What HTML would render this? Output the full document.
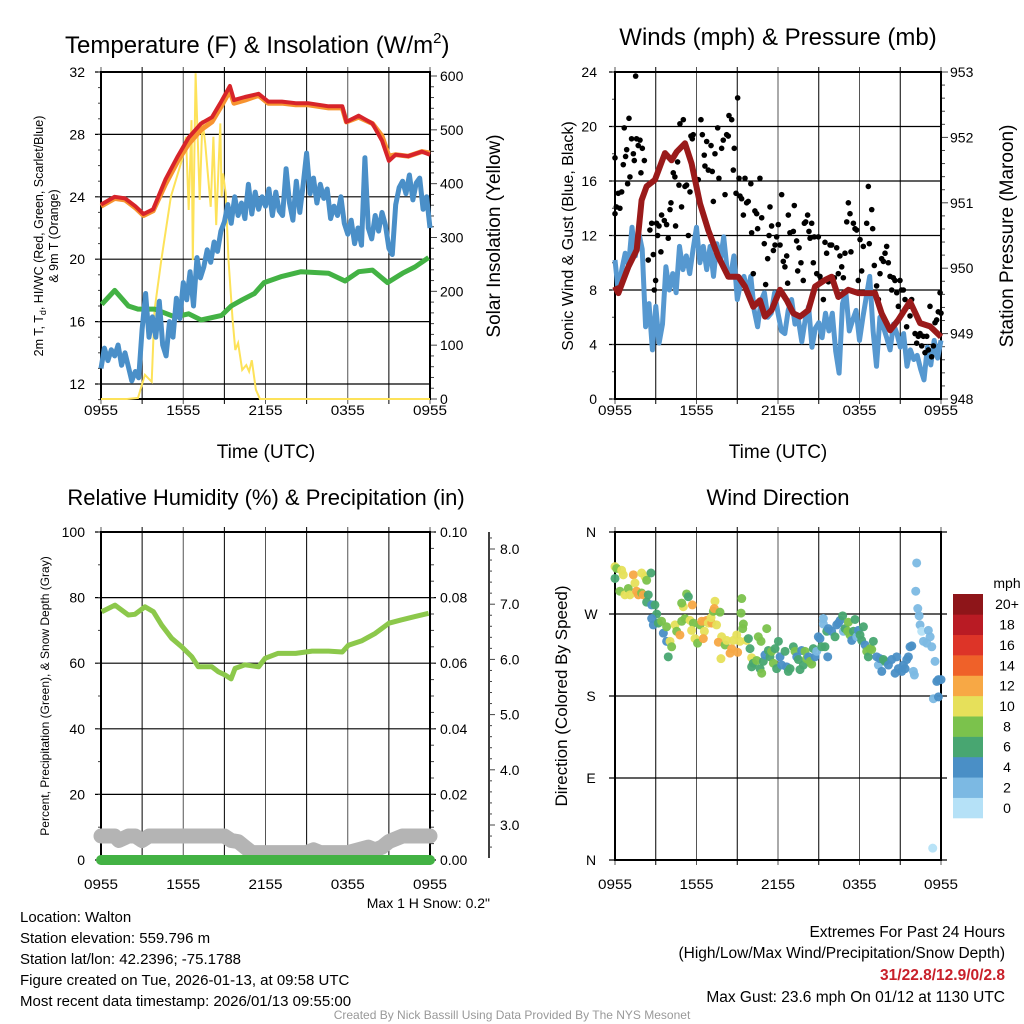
<!DOCTYPE html>
<html><head><meta charset="utf-8">
<style>
html,body{margin:0;padding:0;background:#fff;}
svg{display:block;font-family:"Liberation Sans",Arial,sans-serif;}
</style></head>
<body>
<svg id="c" width="1024" height="1024" viewBox="0 0 1024 1024" xmlns="http://www.w3.org/2000/svg"></svg>
<script>
// ---------- DATA ----------
const xTickLabels = ["0955","1555","2155","0355","0955"];
const quarterHours = [0,0.25,0.5,0.75,1,1.25,1.5,1.75,2,2.25,2.5,2.75,3,3.25,3.5,3.75,4,4.25,4.5,4.75,5,5.25,5.5,5.75,6,6.25,6.5,6.75,7,7.25,7.5,7.75,8,8.25,8.5,8.75,9,9.25,9.5,9.75,10,10.25,10.5,10.75,11,11.25,11.5,11.75,12,12.25,12.5,12.75,13,13.25,13.5,13.75,14,14.25,14.5,14.75,15,15.25,15.5,15.75,16,16.25,16.5,16.75,17,17.25,17.5,17.75,18,18.25,18.5,18.75,19,19.25,19.5,19.75,20,20.25,20.5,20.75,21,21.25,21.5,21.75,22,22.25,22.5,22.75,23,23.25,23.5,23.75,24];
// Panel 1: temperature
const redHours = [0,1,1.75,2.5,3.1,3.8,4.7,5.6,6.4,7.3,8.1,8.7,9.4,9.7,10.5,11.5,12.2,13.2,14.2,15.1,16.6,17.6,17.9,18.8,19.8,20.5,21.0,21.5,22.4,23.4,24];
const redTemp = [23.5,24.0,23.9,23.4,22.9,23.2,25.1,26.6,27.8,28.7,29.1,30.0,31.1,30.2,30.4,30.6,30.1,30.1,30.0,30.0,29.8,29.8,28.8,29.2,28.7,27.6,26.3,26.7,26.6,26.9,26.7];
const orangeTemp = [23.4,23.9,23.8,23.3,22.8,23.1,24.8,26.3,27.4,28.3,28.8,29.7,30.8,30.0,30.2,30.5,30.0,30.0,29.9,29.9,29.7,29.7,28.8,29.1,28.7,27.9,26.6,26.7,26.6,26.9,26.8];
const blueTemp = [13.0,14.3,13.5,14.2, 13.8,14.5,13.2,14.0, 13.1,12.2,12.8,12.4, 15.5,17.8,15.0,16.3, 15.0,17.3,14.5,13.8, 16.0,15.0,17.5,16.2, 18.5,17.4,19.2,17.0, 20.1,18.8,19.5,20.6, 19.8,21.1,20.5,21.8, 22.4,23.5,22.3,24.0, 22.8,23.6,22.6,24.8, 22.9,24.3,23.2,24.0, 23.4,24.5,22.8,24.3, 23.1,22.8,25.8,23.6, 22.5,25.0,23.0,24.8, 26.8,24.2,25.2,23.6, 24.8,23.9,24.5,22.6, 23.4,22.8,24.0,22.3, 21.6,22.5,21.0,22.0, 20.9,26.5,22.0,21.3, 22.8,21.8,23.0,22.2, 20.7,20.3,23.5,24.6, 25.0,24.2,25.4,23.8, 24.9,25.2,23.2,24.0, 22.0];
const greenHours = [0.05,1.0,2.0,2.7,3.9,5.4,6.4,7.3,8.8,9.5,10.3,11.2,11.9,13.2,14.6,16.6,17.8,18.8,19.8,20.9,22.0,22.9,23.9];
const greenTemp = [17.1,18.0,17.0,16.8,16.8,16.3,16.5,16.1,16.4,17.0,17.4,17.8,18.5,18.9,19.2,19.1,18.6,19.2,19.3,18.5,19.1,19.5,20.1];
const solarHours = [0,1.9,2.7,3.2,3.7,3.9,4.4,5.1,5.9,6.2,6.4,6.6,6.7,6.9,7.2,7.4,7.6,8.0,8.2,8.4,8.7,8.8,8.9,9.1,9.3,9.6,9.8,10.0,10.3,10.6,10.8,11.0,11.3,11.6,24];
const solarVals = [0,0,2,45,32,165,258,376,444,487,351,518,258,605,370,518,475,357,487,323,512,376,419,382,258,147,91,104,54,63,51,72,17,0,0];
// Panel 2: winds & pressure
const presHours = [0.0,0.25,0.98,1.6,1.96,2.33,2.94,3.68,4.17,4.54,5.15,5.64,6.26,6.87,7.6,8.34,9.08,9.57,10.18,10.67,11.04,11.53,12.15,12.64,13.13,13.62,14.24,14.73,15.46,15.95,16.45,17.18,17.92,18.65,19.14,19.63,20.25,20.86,21.72,22.46,23.2,24.0];
const presVals = [949.72,949.62,950.02,950.28,951.04,951.25,951.35,951.76,951.65,951.78,951.91,951.60,950.99,950.58,950.18,949.87,949.87,949.72,949.41,949.51,949.26,949.36,949.67,949.51,949.31,949.26,949.36,949.72,949.82,949.87,949.56,949.67,949.62,949.62,949.62,949.31,949.05,949.21,949.49,949.16,949.11,948.95];
const windVals = [10.2,7.8,9.5,10.7, 9.8,12.6,10.5,12.2, 11.0,5.3,7.0,3.6, 6.8,4.1,5.5,9.7, 8.0,9.2,7.8,11.2, 9.5,10.5,9.2,11.0, 12.6,10.0,11.2,9.5, 11.2,9.0,11.4,10.2, 11.9,9.5,9.0,10.5, 7.3,8.5,9.0,7.8, 9.0,6.5,5.3,7.2, 7.8,6.0,6.3,7.8, 6.3,5.0,4.8,6.5, 7.3,5.5,5.8,4.2, 5.8,6.8,3.8,5.2, 5.6,4.5,6.3,5.0, 6.3,3.5,1.9,7.0, 7.8,5.0,5.8,6.5, 4.3,6.0,7.5,9.0, 5.0,2.4,6.0,5.3, 4.5,3.6,5.5,4.8, 3.8,4.8,2.4,3.6, 2.9,3.2,2.2,1.4, 3.8,2.5,4.3,3.0, 4.3];
const gustHours = [0.0,0.0,0.1,0.24,0.36,0.49,0.61,0.68,0.78,0.86,0.93,1.03,1.1,1.22,1.35,1.42,1.52,1.59,1.71,1.84,1.91,2.01,2.16,2.45,2.57,2.7,2.82,2.89,2.99,3.06,3.14,3.24,3.38,3.43,3.63,3.8,3.92,4.05,4.12,4.29,4.41,4.46,4.61,4.71,4.78,4.9,5.03,5.15,5.27,5.4,5.52,5.59,5.69,5.76,6.13,6.33,6.43,6.57,6.62,6.75,6.87,7.07,7.16,7.24,7.36,7.56,7.65,7.85,7.97,8.1,8.22,8.34,8.39,8.59,8.71,8.78,8.91,9.03,9.13,9.2,9.32,9.45,9.57,9.69,9.81,10.0,10.06,10.18,10.3,10.43,10.5,10.67,10.8,10.99,11.09,11.24,11.34,11.41,11.53,11.66,11.78,11.9,12.02,12.15,12.27,12.39,12.51,12.64,12.71,12.76,12.88,13.13,13.2,13.37,13.45,13.55,13.69,13.86,13.94,14.04,14.18,14.28,14.36,14.48,14.6,14.67,14.85,14.97,15.09,15.21,15.34,15.46,15.58,15.71,15.83,15.95,16.15,16.32,16.44,16.56,16.69,16.81,16.93,17.06,17.18,17.3,17.37,17.55,17.67,17.79,17.91,18.04,18.16,18.28,18.53,18.65,18.72,18.9,18.97,19.09,19.26,19.39,19.51,19.63,19.76,19.88,20.0,20.12,20.25,20.37,20.49,20.61,20.74,20.86,20.98,21.1,21.23,21.35,21.47,21.6,21.72,21.84,22.09,22.21,22.33,22.46,22.58,22.7,22.82,22.95,23.07,23.19,23.31,23.44,23.56,23.68,23.8,23.93,24.0];
const gustVals = [17.7,13.6,14.1,15.1,14.0,15.2,17.2,19.9,17.8,18.3,15.8,20.6,16.3,19.1,18.0,17.5,23.7,19.1,18.6,19.0,16.6,18.4,17.5,10.2,12.4,12.9,10.6,8.0,8.7,12.9,12.0,12.7,10.8,13.5,13.1,12.8,11.8,13.9,14.4,16.6,16.3,12.7,17.4,15.7,20.2,14.1,20.5,15.6,15.7,12.0,15.2,19.3,19.1,19.4,16.1,20.5,19.4,17.9,17.1,18.9,16.8,18.6,16.7,14.5,18.0,19.9,16.2,18.4,19.0,15.0,19.4,19.3,20.8,20.5,16.8,18.4,15.1,22.1,16.2,14.9,14.7,13.5,16.2,14.4,14.5,15.8,12.2,9.2,13.8,13.6,12.5,16.2,13.3,11.4,8.4,10.3,12.0,14.1,12.7,10.9,11.3,11.9,12.8,11.3,15.0,10.1,9.7,10.5,8.5,13.5,12.2,12.3,14.2,11.6,9.4,11.1,10.0,8.7,12.9,13.0,13.5,12.3,11.8,12.9,10.0,11.9,9.2,11.9,9.0,8.7,7.3,11.5,10.7,8.6,11.3,11.3,8.9,11.1,9.2,10.5,9.7,8.9,10.7,13.0,14.4,13.6,10.8,12.9,12.5,12.4,8.7,11.7,9.4,11.2,12.9,15.6,11.4,13.9,12.5,9.8,8.3,7.3,9.2,10.3,10.1,10.7,11.2,10.0,9.0,8.0,8.9,8.7,7.8,6.8,8.7,8.0,8.0,7.3,5.3,6.8,6.1,7.3,4.8,4.1,4.6,4.8,3.9,4.6,3.4,4.6,3.6,6.8,3.1,3.9,5.6,5.8,6.4,7.8,6.3];
// Panel 3: humidity / precip / snow
const rhHours = [0.05,1.02,1.99,2.48,3.21,3.82,4.43,5.16,5.89,6.62,7.1,8.08,8.56,9.05,9.49,9.78,10.5,11.5,11.97,12.9,14.2,15.4,16.6,17.6,18.05,19.0,20.0,21.0,21.9,22.9,23.9];
const rhVals = [75.7,77.7,74.7,74.9,77.2,75.7,71.6,67.6,65.0,62.0,58.9,58.9,57.4,56.4,55.2,58.4,59.5,58.9,61.5,63.0,63.0,63.7,63.7,63.4,65.5,66.8,69.1,72.2,73.2,74.2,75.2];
const precipHours = [0,24];
const precipVals = [0,0];
const snowHours = [0,1,1.3,2,2.5,3,3.5,9,9.5,10,10.5,11,15,15.5,16,18,19.5,20,20.5,21,22,24];
const snowVals = [2.8,2.8,2.72,2.8,2.8,2.72,2.8,2.8,2.72,2.7,2.6,2.5,2.5,2.55,2.5,2.5,2.6,2.55,2.6,2.7,2.8,2.8];
// Panel 4: wind direction
const dirHours = [0,0.12,0,0.49,0.61,0.36,0.73,0.98,1.1,1.35,1.47,1.59,1.72,1.96,2.08,1.96,2.21,2.33,2.45,2.65,2.33,2.7,2.94,3.07,2.7,2.82,3.19,3.43,3.56,3.8,3.8,4.05,4.17,3.92,4.42,4.54,4.78,4.91,5.03,4.91,5.27,5.4,5.69,5.15,5.52,5.77,5.64,5.89,6.08,6.26,6.38,6.58,6.5,6.63,6.75,6.87,7.12,7.07,7.24,7.36,7.31,7.48,7.73,7.85,7.61,7.8,8.1,8.22,8.59,8.47,8.71,8.96,9.03,9.2,9.33,9.28,9.45,9.4,9.69,9.82,10.06,10.18,9.94,10.06,10.43,10.55,10.75,10.68,10.8,10.92,11.17,11.04,11.29,11.41,11.53,11.66,11.78,12.03,11.9,12.15,12.27,12.52,12.64,12.76,12.89,13.13,13.25,13.38,13.5,13.62,13.74,13.87,13.99,14.11,14.24,14.36,14.48,14.6,14.73,14.85,14.97,15.09,15.22,15.46,15.66,15.34,15.34,15.59,15.71,15.95,16.2,16.32,16.45,16.57,16.76,16.81,16.94,17.13,17.18,17.3,17.43,17.55,17.67,17.8,17.92,18.04,18.29,18.16,18.41,18.53,18.65,18.78,18.9,19.02,19.27,19.39,19.51,19.64,19.76,19.88,20.13,20.37,20.62,20.74,20.86,21.11,21.23,21.36,21.48,21.6,21.72,21.85,21.97,22.04,22.21,22.14,22.29,22.39,22.46,22.58,22.71,22.95,23.07,23.2,23.32,23.56,23.69,23.81,24.0,23.44,23.81,23.39];
const dirDeg = [322,320,309,318,313,295,291,298,291,313,304,295,291,293,291,315,311,307,291,315,283,280,280,270,265,258,260,262,249,256,240,240,234,223,258,251,247,262,278,282,292,289,280,265,263,260,252,243,238,258,262,251,243,262,263,260,260,266,273,284,276,258,272,245,239,221,236,241,232,227,241,247,228,240,287,271,259,254,241,243,222,216,232,212,219,245,240,210,205,218,254,225,230,223,229,216,232,240,210,223,214,229,212,207,210,234,229,223,220,209,230,214,229,221,223,218,215,232,223,229,245,243,234,234,223,265,259,251,254,251,245,258,260,263,268,251,254,251,261,247,241,251,264,245,252,247,256,241,236,229,223,232,231,240,223,214,221,207,220,218,214,220,205,223,210,207,214,210,220,223,234,235,207,203,326,295,276,268,258,251,240,238,252,245,234,218,196,198,198,177,179,13];
const dirSpeed = [10.5,8.5,6.5,10.5,10.5,8.5,10.5,8.5,10.5,12.5,10.5,12.5,12.5,8.5,12.5,10.5,10.5,8.5,6.5,6.5,6.5,4.5,6.5,6.5,4.5,4.5,6.5,8.5,4.5,8.5,4.5,10.5,8.5,6.5,10.5,8.5,12.5,8.5,10.5,8.5,8.5,6.5,12.5,8.5,10.5,8.5,10.5,10.5,8.5,8.5,12.5,10.5,12.5,12.5,12.5,10.5,12.5,10.5,8.5,10.5,12.5,10.5,8.5,10.5,12.5,10.5,8.5,10.5,12.5,12.5,10.5,10.5,12.5,10.5,8.5,8.5,8.5,8.5,10.5,6.5,10.5,6.5,6.5,6.5,8.5,8.5,8.5,6.5,8.5,6.5,8.5,4.5,6.5,6.5,8.5,8.5,6.5,6.5,6.5,4.5,4.5,6.5,4.5,6.5,6.5,6.5,8.5,4.5,6.5,6.5,4.5,6.5,8.5,8.5,4.5,8.5,8.5,6.5,4.5,2.5,4.5,4.5,6.5,6.5,4.5,2.5,2.5,6.5,4.5,4.5,6.5,4.5,4.5,4.5,6.5,2.5,6.5,8.5,8.5,8.5,4.5,6.5,6.5,2.5,4.5,6.5,6.5,6.5,4.5,8.5,6.5,8.5,8.5,6.5,4.5,2.5,4.5,4.5,6.5,6.5,4.5,4.5,4.5,4.5,4.5,4.5,4.5,4.5,4.5,4.5,4.5,4.5,2.5,2.5,2.5,2.5,2.5,2.5,2.5,1,2.5,2.5,2.5,2.5,2.5,2.5,4.5,4.5,4.5,2.5,4.5,1];
const speedBinLabels = ["0","2","4","6","8","10","12","14","16","18","20+"];
const speedBinColors = ["#b5e1f7","#7cb9e3","#4a8fc6","#48a671","#7bc24c","#e6e05a","#f7a845","#ef6129","#dd3428","#b91b24","#8e1519"];

// ---------- HELPERS ----------
const NS="http://www.w3.org/2000/svg";
const svg=document.getElementById('c');
function mk(tag,attrs,parent){const e=document.createElementNS(NS,tag);for(const k in attrs)e.setAttribute(k,attrs[k]);(parent||svg).appendChild(e);return e;}
function txt(s,x,y,size,anchor,parent,extra){const e=mk('text',Object.assign({x:x,y:y,'font-size':size,'text-anchor':anchor||'start',fill:'#000'},extra||{}),parent);e.textContent=s;return e;}
function lin(d0,d1,p0,p1){return v=>p0+(v-d0)/(d1-d0)*(p1-p0);}
function pathFrom(xs,ys,fx,fy){return xs.map((h,i)=>(i?'L':'M')+fx(h).toFixed(1)+' '+fy(ys[i]).toFixed(1)).join(' ');}

function frame(g,X0,X1,Y0,Y1,fx){
  for(let h=0;h<=24;h+=3){const x=fx(h);
    mk('line',{x1:x,y1:Y0-5,x2:x,y2:Y1+5,stroke:(h%6==3)?'#000':'#555','stroke-width':1},g);}
}
function xLabels(g,fx,y){xTickLabels.forEach((s,i)=>{txt(s,fx(i*6),y,14,'middle',g,{'textLength':34,'lengthAdjust':'spacingAndGlyphs'});});}

// ================= PANEL 1 =================
(function(){
  const g=mk('g',{});
  
  
  const X0=101,X1=430,Y0=72,Y1=399;
  const fx=lin(0,24,X0,X1), fy=lin(12,32,384,72), fs=lin(0,600,399,76);
  frame(g,X0,X1,Y0,Y1,fx);
  for(let t=12;t<=32;t+=4){const y=fy(t);mk('line',{x1:X0-6,y1:y,x2:X1,y2:y,stroke:'#000','stroke-width':1.2},g);
    const l=txt(String(t),85,y+5,14,'end',g); }
  for(let t=11;t<=32;t++){const y=fy(t);mk('line',{x1:X0-3,y1:y,x2:X0,y2:y,stroke:'#444','stroke-width':1},g);}
  for(let s=0;s<=600;s+=20){const y=fs(s);mk('line',{x1:X1,y1:y,x2:X1+(s%100==0?7:4),y2:y,stroke:'#444','stroke-width':1},g);}
  for(let s=0;s<=600;s+=100){txt(String(s),440,fs(s)+5,14,'start',g);}
  mk('rect',{x:X0,y:Y0,width:X1-X0,height:Y1-Y0,fill:'none',stroke:'#000','stroke-width':2},g);
  const sol=mk('path',{d:pathFrom(solarHours,solarVals,fx,fs),fill:'none',stroke:'#fde259','stroke-width':2},g);
  
  const gr=mk('path',{d:pathFrom(greenHours,greenTemp,fx,fy),fill:'none',stroke:'#43b244','stroke-width':5,'stroke-linejoin':'round'},g);
  
  const bl=mk('path',{d:pathFrom(quarterHours,blueTemp,fx,fy),fill:'none',stroke:'#4a8fc8','stroke-width':5,'stroke-linejoin':'round'},g);
  
  const or=mk('path',{d:pathFrom(redHours,orangeTemp,fx,fy),fill:'none',stroke:'#f7932f','stroke-width':5,'stroke-linejoin':'round'},g);
  
  const rd=mk('path',{d:pathFrom(redHours,redTemp,fx,fy),fill:'none',stroke:'#d7242a','stroke-width':4,'stroke-linejoin':'round'},g);
  
  xLabels(g,fx,415);
  const t=txt('Temperature (F) & Insolation (W/m',65,53,24,'start',g); 
  const ts=mk('tspan',{'font-size':15,dy:-10},t); ts.textContent='2';
  const ts2=mk('tspan',{'font-size':24,dy:10},t); ts2.textContent=')';
  txt('Time (UTC)',266,458,19,'middle',g);
  const yl=mk('text',{transform:'translate(43,236) rotate(-90)','font-size':12.5,'text-anchor':'middle'},g);
  
  yl.innerHTML='2m T, T<tspan font-size="9" dy="3">d</tspan><tspan dy="-3">, HI/WC (Red, Green, Scarlet/Blue)</tspan>';
  txt('& 9m T (Orange)',0,0,12.5,'middle',g,{transform:'translate(58,236) rotate(-90)'});
  txt('Solar Insolation (Yellow)',0,0,19,'middle',g,{transform:'translate(500,236) rotate(-90)'});
})();

// ================= PANEL 2 =================
(function(){
  const g=mk('g',{});
  
  
  const X0=615,X1=941,Y0=72,Y1=399;
  const fx=lin(0,24,X0,X1), fy=lin(0,24,399,72), fp=lin(948,953,399,72);
  frame(g,X0,X1,Y0,Y1,fx);
  for(let w=0;w<=24;w+=4){const y=fy(w);mk('line',{x1:X0-6,y1:y,x2:X1,y2:y,stroke:'#000','stroke-width':1.2},g);txt(String(w),597,y+5,14,'end',g);}
  for(let w=0;w<=24;w+=2){const y=fy(w);mk('line',{x1:X0-3,y1:y,x2:X0,y2:y,stroke:'#444'},g);}
  for(let i=0;i<=25;i++){const p=948+i*0.2;const y=fp(p);mk('line',{x1:X1,y1:y,x2:X1+(i%5==0?7:4),y2:y,stroke:'#444'},g);}
  for(let p=948;p<=953;p++){txt(String(p),950,fp(p)+5,14,'start',g);}
  mk('rect',{x:X0,y:Y0,width:X1-X0,height:Y1-Y0,fill:'none',stroke:'#000','stroke-width':2},g);
  const wl=mk('path',{d:pathFrom(quarterHours,windVals,fx,fy),fill:'none',stroke:'#5698d0','stroke-width':5,'stroke-linejoin':'round'},g);
  
  gustHours.forEach((h,i)=>{const c=mk('circle',{cx:fx(h),cy:fy(gustVals[i]),r:2.8,fill:'#000'},g);
    
    });
  const pl=mk('path',{d:pathFrom(presHours,presVals,fx,fp),fill:'none',stroke:'#9a1a1a','stroke-width':6,'stroke-linejoin':'round'},g);
  
  xLabels(g,fx,415);
  txt('Winds (mph) & Pressure (mb)',778,45,24,'middle',g);
  txt('Time (UTC)',778,458,19,'middle',g);
  txt('Sonic Wind & Gust (Blue, Black)',0,0,16,'middle',g,{transform:'translate(573,236) rotate(-90)'});
  txt('Station Pressure (Maroon)',0,0,19,'middle',g,{transform:'translate(1013,236) rotate(-90)'});
})();

// ================= PANEL 3 =================
(function(){
  const g=mk('g',{});
  
  
  const X0=101,X1=430,Y0=532,Y1=860;
  const fx=lin(0,24,X0,X1), fy=lin(0,100,860,532), fsn=lin(3,8,825,549);
  frame(g,X0,X1,Y0,Y1,fx);
  for(let v=0;v<=100;v+=20){const y=fy(v);mk('line',{x1:X0-6,y1:y,x2:X1+6,y2:y,stroke:'#000','stroke-width':1.2},g);txt(String(v),85,y+5,14,'end',g);
    txt((v/1000).toFixed(2),440,y+5,14,'start',g);}
  for(let v=0;v<=100;v+=10){const y=fy(v);mk('line',{x1:X0-3,y1:y,x2:X0,y2:y,stroke:'#444'},g);}
  for(let v=0;v<=100;v+=5){const y=fy(v);mk('line',{x1:X1,y1:y,x2:X1+4,y2:y,stroke:'#444'},g);}
  mk('line',{x1:489,y1:532,x2:489,y2:858,stroke:'#000','stroke-width':1.5},g);
  for(let i=0;i<=30;i++){const s=2.4+i*0.2;const y=fsn(s);if(y<532||y>858)continue;mk('line',{x1:489,y1:y,x2:489+(Math.abs(s-Math.round(s))<0.01?6:3),y2:y,stroke:'#444'},g);}
  for(let s=3;s<=8;s++){txt(s.toFixed(1),500,fsn(s)+5,14,'start',g);}
  mk('rect',{x:X0,y:Y0,width:X1-X0,height:Y1-Y0,fill:'none',stroke:'#000','stroke-width':2},g);
  const sn=mk('path',{d:pathFrom(snowHours,snowVals,fx,fsn),fill:'none',stroke:'#b4b4b4','stroke-width':15,'stroke-linejoin':'round','stroke-linecap':'round'},g);
  
  const pr=mk('path',{d:pathFrom(precipHours,precipVals,fx,v=>fy(v*1000)),fill:'none',stroke:'#43b244','stroke-width':10,'stroke-linecap':'round'},g);
  
  const rh=mk('path',{d:pathFrom(rhHours,rhVals,fx,fy),fill:'none',stroke:'#8cc84b','stroke-width':5,'stroke-linejoin':'round'},g);
  
  xLabels(g,fx,889);
  txt('Relative Humidity (%) & Precipitation (in)',266,505,22,'middle',g);
  txt('Percent, Precipitation (Green), & Snow Depth (Gray)',0,0,12,'middle',g,{transform:'translate(49,696) rotate(-90)'});
  txt('Max 1 H Snow: 0.2"',490,908,14,'end',g);
})();

// ================= PANEL 4 =================
(function(){
  const g=mk('g',{});
  
  
  const X0=615,X1=941,Y0=532,Y1=860;
  const fx=lin(0,24,X0,X1), fy=lin(0,360,860,532);
  frame(g,X0,X1,Y0,Y1,fx);
  ["N","E","S","W","N"].forEach((s,i)=>{const y=fy(i*90);mk('line',{x1:X0-6,y1:y,x2:X1+6,y2:y,stroke:'#000','stroke-width':1.2},g);txt(s,591,y+5,14,'middle',g);});
  mk('rect',{x:X0,y:Y0,width:X1-X0,height:Y1-Y0,fill:'none',stroke:'#000','stroke-width':2},g);
  dirHours.forEach((h,i)=>{const b=Math.min(10,Math.floor(dirSpeed[i]/2));
    const c=mk('circle',{cx:fx(h),cy:fy(dirDeg[i]),r:4.5,fill:speedBinColors[b],'fill-opacity':0.95},g);
    
    });
  const cb=mk('g',{},g);
  
  
  const bh=224/11;
  speedBinColors.forEach((col,i)=>{const y=818-(i+1)*bh;mk('rect',{x:953,y:y,width:30,height:bh+0.3,fill:col},cb);
    txt(speedBinLabels[i],1007,y+bh/2+5,14,'middle',cb);});
  txt('mph',1007,588,14,'middle',cb);
  xLabels(g,fx,889);
  txt('Wind Direction',778,505,22,'middle',g);
  txt('Direction (Colored By Speed)',0,0,17,'middle',g,{transform:'translate(567,696) rotate(-90)'});
})();

// ================= FOOTER TEXT =================
(function(){
  const g=mk('g',{});
  
  
  ["Location: Walton","Station elevation: 559.796 m","Station lat/lon: 42.2396; -75.1788","Figure created on Tue, 2026-01-13, at 09:58 UTC","Most recent data timestamp: 2026/01/13 09:55:00"].forEach((s,i)=>txt(s,20,922+i*21,15,'start',g));
  const r=mk('g',{});
  
  
  txt('Extremes For Past 24 Hours',1005,937,15.5,'end',r);
  txt('(High/Low/Max Wind/Precipitation/Snow Depth)',1005,958,15.5,'end',r);
  txt('31/22.8/12.9/0/2.8',1005,980,15.5,'end',r,{fill:'#c8202a','font-weight':'bold'});
  txt('Max Gust: 23.6 mph On 01/12 at 1130 UTC',1005,1002,15.5,'end',r);
  txt('Created By Nick Bassill Using Data Provided By The NYS Mesonet',512,1019,12,'middle',svg,{fill:'#999'});
})();
</script>
</body></html>
